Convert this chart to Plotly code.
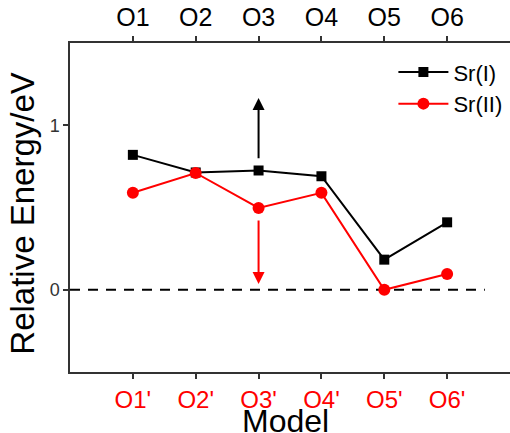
import plotly.graph_objects as go

# Model sites and relative energies (eV)
positions = [1, 2, 3, 4, 5, 6]
top_labels = ["O1", "O2", "O3", "O4", "O5", "O6"]
bottom_labels = ["O1'", "O2'", "O3'", "O4'", "O5'", "O6'"]
sr1_energy = [0.82, 0.713, 0.725, 0.69, 0.183, 0.41]
sr2_energy = [0.59, 0.71, 0.497, 0.589, 0.0, 0.096]

# Arrows at O3: (x, y_start, y_end)
arrow_sr1 = (3, 0.79, 1.165)
arrow_sr2 = (3, 0.43, 0.035)

# Reference line at zero energy
ref_x = [0, 6.6]
ref_y = [0, 0]

FONT = "Liberation Sans, Arial, sans-serif"
RED = "#ff0000"

fig = go.Figure()

fig.add_trace(go.Scatter(
    x=ref_x, y=ref_y, mode="lines", showlegend=False, hoverinfo="skip",
    line=dict(color="black", width=2, dash="10px,8px"),
))
fig.add_trace(go.Scatter(
    x=positions, y=sr1_energy, mode="lines+markers", name="Sr(I)",
    line=dict(color="black", width=2),
    marker=dict(symbol="square", size=10, color="black"),
))
fig.add_trace(go.Scatter(
    x=positions, y=sr2_energy, mode="lines+markers", name="Sr(II)",
    line=dict(color=RED, width=2),
    marker=dict(symbol="circle", size=12, color=RED),
))
# invisible trace to activate the top axis
fig.add_trace(go.Scatter(
    x=positions, y=sr1_energy, xaxis="x2", mode="markers",
    marker=dict(opacity=0), showlegend=False, hoverinfo="skip",
))

for (ax_x, y0, y1), color in ((arrow_sr1, "black"), (arrow_sr2, RED)):
    fig.add_annotation(
        x=ax_x, y=y1, ax=ax_x, ay=y0, xref="x", yref="y", axref="x", ayref="y",
        showarrow=True, arrowhead=2, arrowsize=1.2, arrowwidth=2,
        arrowcolor=color, text="",
    )

axis_line = dict(showline=True, linecolor="#333333", linewidth=1.5,
                 ticks="outside", ticklen=5, tickwidth=1.5, tickcolor="#333333",
                 showgrid=False, zeroline=False)

fig.update_layout(
    width=510, height=433,
    margin=dict(l=70, r=0, t=43, b=61),
    paper_bgcolor="white", plot_bgcolor="white",
    font=dict(family=FONT, color="black"),
    xaxis=dict(range=[0, 7], tickvals=positions, ticktext=bottom_labels,
               tickfont=dict(size=24, color=RED, family=FONT), **axis_line),
    xaxis2=dict(range=[0, 7], tickvals=positions, ticktext=top_labels,
                overlaying="x", side="top", anchor="y",
                tickfont=dict(size=25, color="black", family=FONT), **axis_line),
    yaxis=dict(range=[-0.5, 1.5], tickvals=[0, 1], ticktext=["0", "1"],
               tickfont=dict(size=18, color="#333333", family=FONT), **axis_line),
    legend=dict(x=0.735, y=0.975, xanchor="left", yanchor="top",
                bgcolor="rgba(0,0,0,0)", font=dict(size=22, family=FONT),
                itemwidth=50, tracegroupgap=0),
    showlegend=True,
)

fig.add_annotation(text="Model", xref="paper", yref="paper", x=0.49, y=-0.148,
                   xanchor="center", yanchor="middle", showarrow=False,
                   font=dict(size=32, family=FONT, color="black"))
fig.add_annotation(text="Relative Energy/eV", xref="paper", yref="paper",
                   x=-0.11, y=0.48, xanchor="center", yanchor="middle",
                   textangle=-90, showarrow=False,
                   font=dict(size=33, family=FONT, color="black"))

fig.write_html("out.html")
